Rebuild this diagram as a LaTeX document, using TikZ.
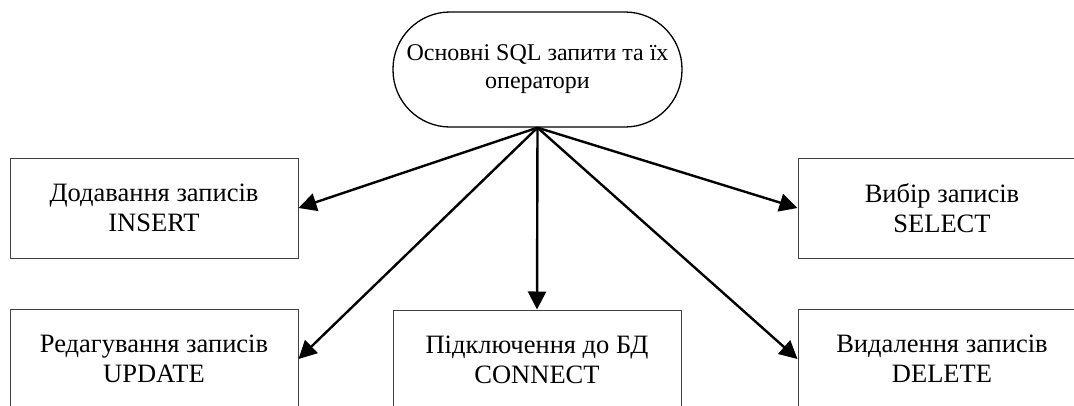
\documentclass[tikz,border=0pt]{standalone}
\usepackage{fontspec}
\setmainfont{Liberation Serif}
\usetikzlibrary{arrows.meta}
\begin{document}
\begin{tikzpicture}[x=1pt,y=-1pt,
  every node/.style={font=\fontsize{26.5}{30}\selectfont, align=center, inner sep=0pt},
  opbox/.style={draw=black!75, line width=1pt, minimum width=288pt, minimum height=100pt},
  rootbox/.style={draw=black, line width=1.3pt, minimum width=289pt, minimum height=115pt,
    rounded corners=57pt, font=\fontsize{24}{28}\selectfont},
  link/.style={line width=2.4pt, -{Triangle[length=18pt,width=18pt]}}]
  \clip (0,0) rectangle (1074,405);
  \fill[white] (0,0) rectangle (1074,405);

  \node[rootbox] (root) at (537.5,69.5) {Основні SQL запити та їх\\оператори};

  \node[opbox] (ins) at (154,208) {Додавання записів\\INSERT};
  \node[opbox] (sel) at (942,208) {Вибір записів\\SELECT};
  \node[opbox] (upd) at (154,359) {Редагування записів\\UPDATE};
  \node[opbox] (con) at (537,360) {Підключення до БД\\CONNECT};
  \node[opbox] (del) at (942,359) {Видалення записів\\DELETE};

  \draw[link] (root.south) -- (ins.east);
  \draw[link] (root.south) -- (sel.west);
  \draw[link] (root.south) -- (upd.east);
  \draw[link] (root.south) -- (con.north);
  \draw[link] (root.south) -- (del.west);
\end{tikzpicture}
\end{document}
